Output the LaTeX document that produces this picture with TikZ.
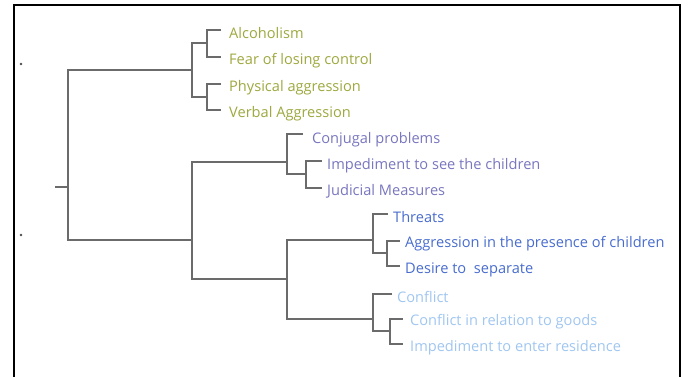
\documentclass[tikz,border=0pt]{standalone}
\usepackage{fontspec}
\newfontfamily\lf{Open Sans}
\begin{document}
\begin{tikzpicture}[x=1pt,y=-1pt,
  link/.style={draw=black!58,line width=2pt},
  leaf/.style={anchor=west,inner sep=0pt,font=\lf\fontsize{14.6}{16}\selectfont},
  ol/.style={leaf,text=olive1},
  pu/.style={leaf,text=purple1},
  bl/.style={leaf,text=blue1},
  lb/.style={leaf,text=lblue1}]
\definecolor{olive1}{RGB}{158,168,62}
\definecolor{purple1}{RGB}{120,118,190}
\definecolor{blue1}{RGB}{72,108,206}
\definecolor{lblue1}{RGB}{160,198,240}
\useasboundingbox (0,0) rectangle (688,376);
% frame
\draw[line width=2.8pt] (14,380) -- (14,5) -- (680,5) -- (680,380);
\fill[black!70] (21,64) circle (1.4);
\fill[black!70] (21,235) circle (1.4);
% leaves
\node[ol] (l1) at (229,33.5) {Alcoholism};
\node[ol] (l2) at (229,60.5) {Fear of losing control};
\node[ol] (l3) at (229,87.5) {Physical aggression};
\node[ol] (l4) at (229,113.5) {Verbal Aggression};
\node[pu] (l5) at (312,139.5) {Conjugal problems};
\node[pu] (l6) at (327,165.5) {Impediment to see the children};
\node[pu] (l7) at (327,191.5) {Judicial Measures};
\node[bl] (l8) at (393,217.5) {Threats};
\node[bl] (l9) at (405,243.5) {Aggression in the presence of children};
\node[bl] (l10) at (405,269.5) {Desire to\ \ separate};
\node[lb] (l11) at (397,297) {Conflict};
\node[lb] (l12) at (410,322) {Conflict in relation to goods};
\node[lb] (l13) at (410,348) {Impediment to enter residence};
% tick ends
\coordinate (t1) at (221,30);
\coordinate (t2) at (221,57);
\coordinate (t3) at (221,84);
\coordinate (t4) at (221,110);
\coordinate (t5) at (303,134);
\coordinate (t6) at (322,161);
\coordinate (t7) at (322,188);
\coordinate (t8) at (388,214);
\coordinate (t9) at (400,241);
\coordinate (t10) at (400,266);
\coordinate (t11) at (392,294);
\coordinate (t12) at (403,319);
\coordinate (t13) at (403,344);
% junctions
\coordinate (a) at (207,43);
\coordinate (b) at (207,97);
\coordinate (c) at (192,70);
\coordinate (d) at (306,174);
\coordinate (e) at (287,162);
\coordinate (f) at (387,253);
\coordinate (g) at (373,240);
\coordinate (h) at (390,331);
\coordinate (i) at (373,319);
\coordinate (j) at (287,279);
\coordinate (k) at (192,240);
\coordinate (r) at (68,187);
\coordinate (s) at (55,187);
% connectors
\path[link] (t1) -| (a) |- (t2);
\path[link] (t3) -| (b) |- (t4);
\path[link] (a) -| (c) |- (b);
\path[link] (t6) -| (d) |- (t7);
\path[link] (t5) -| (e) |- (d);
\path[link] (t9) -| (f) |- (t10);
\path[link] (t8) -| (g) |- (f);
\path[link] (t12) -| (h) |- (t13);
\path[link] (t11) -| (i) |- (h);
\path[link] (g) -| (j) |- (i);
\path[link] (e) -| (k) |- (j);
\path[link] (c) -| (r) |- (k);
\path[link] (s) -- (r);
\end{tikzpicture}
\end{document}
